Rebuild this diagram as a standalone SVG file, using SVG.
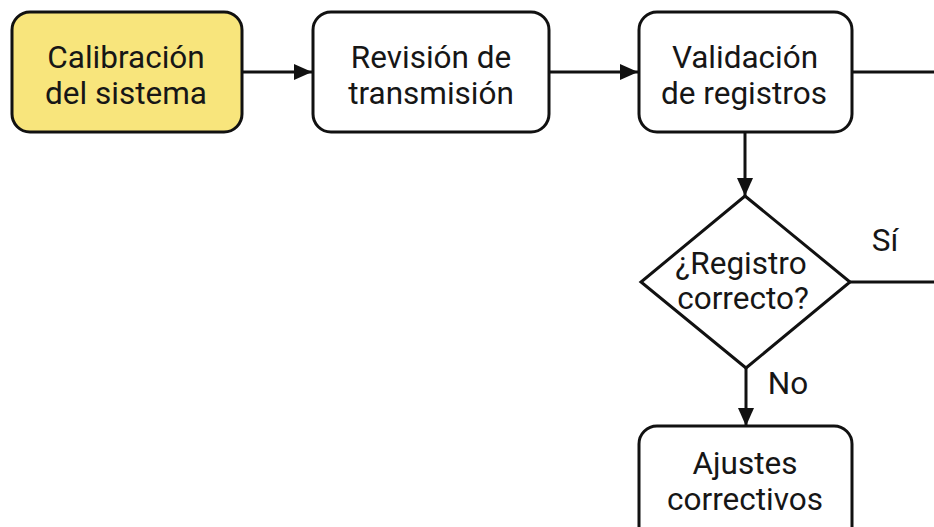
<svg xmlns="http://www.w3.org/2000/svg" width="934" height="527" viewBox="0 0 934 527">
  <style>
    .box { fill: #ffffff; stroke: #111111; stroke-width: 3; }
    .start { fill: #f8e57c; }
    .lbl { font-family: Roboto, "Liberation Sans", sans-serif; font-size: 31.5px; fill: #161616; text-anchor: middle; }
    .edge { fill: none; stroke: #111111; stroke-width: 3; }
  </style>
  <defs>
    <marker id="arrow" viewBox="0 0 18 16" refX="18" refY="8" markerWidth="18" markerHeight="16" markerUnits="userSpaceOnUse" orient="auto">
      <path d="M0,0 L18,8 L0,16 Z" fill="#111111"/>
    </marker>
  </defs>
  <rect width="934" height="527" fill="#ffffff"/>

  <g id="connectors">
    <line class="edge" x1="242" y1="72" x2="312" y2="72" marker-end="url(#arrow)"/>
    <line class="edge" x1="549" y1="72" x2="638" y2="72" marker-end="url(#arrow)"/>
    <line class="edge" x1="852" y1="72" x2="934" y2="72"/>
    <line class="edge" x1="745" y1="132" x2="745" y2="196" marker-end="url(#arrow)"/>
    <line class="edge" x1="850" y1="282" x2="934" y2="282"/>
    <line class="edge" x1="746" y1="368" x2="746" y2="426" marker-end="url(#arrow)"/>
    <text class="lbl" x="885" y="251">Sí</text>
    <text class="lbl" x="788" y="394">No</text>
  </g>

  <g id="calibracion">
    <rect class="box start" x="12" y="12" width="230" height="120" rx="18"/>
    <text class="lbl" x="126" y="68">Calibración</text>
    <text class="lbl" x="126" y="104">del sistema</text>
  </g>

  <g id="revision">
    <rect class="box" x="313" y="12" width="236" height="120" rx="18"/>
    <text class="lbl" x="431" y="68">Revisión de</text>
    <text class="lbl" x="431" y="104">transmisión</text>
  </g>

  <g id="validacion">
    <rect class="box" x="639" y="12" width="213" height="120" rx="18"/>
    <text class="lbl" x="745" y="68">Validación</text>
    <text class="lbl" x="744" y="104">de registros</text>
  </g>

  <g id="decision">
    <polygon class="box" points="745,196 850,282 746,368 641,282"/>
    <text class="lbl" x="741" y="274">¿Registro</text>
    <text class="lbl" x="743" y="309">correcto?</text>
  </g>

  <g id="ajustes">
    <rect class="box" x="639" y="426" width="213" height="120" rx="18"/>
    <text class="lbl" x="745" y="474">Ajustes</text>
    <text class="lbl" x="745" y="510">correctivos</text>
  </g>
</svg>
